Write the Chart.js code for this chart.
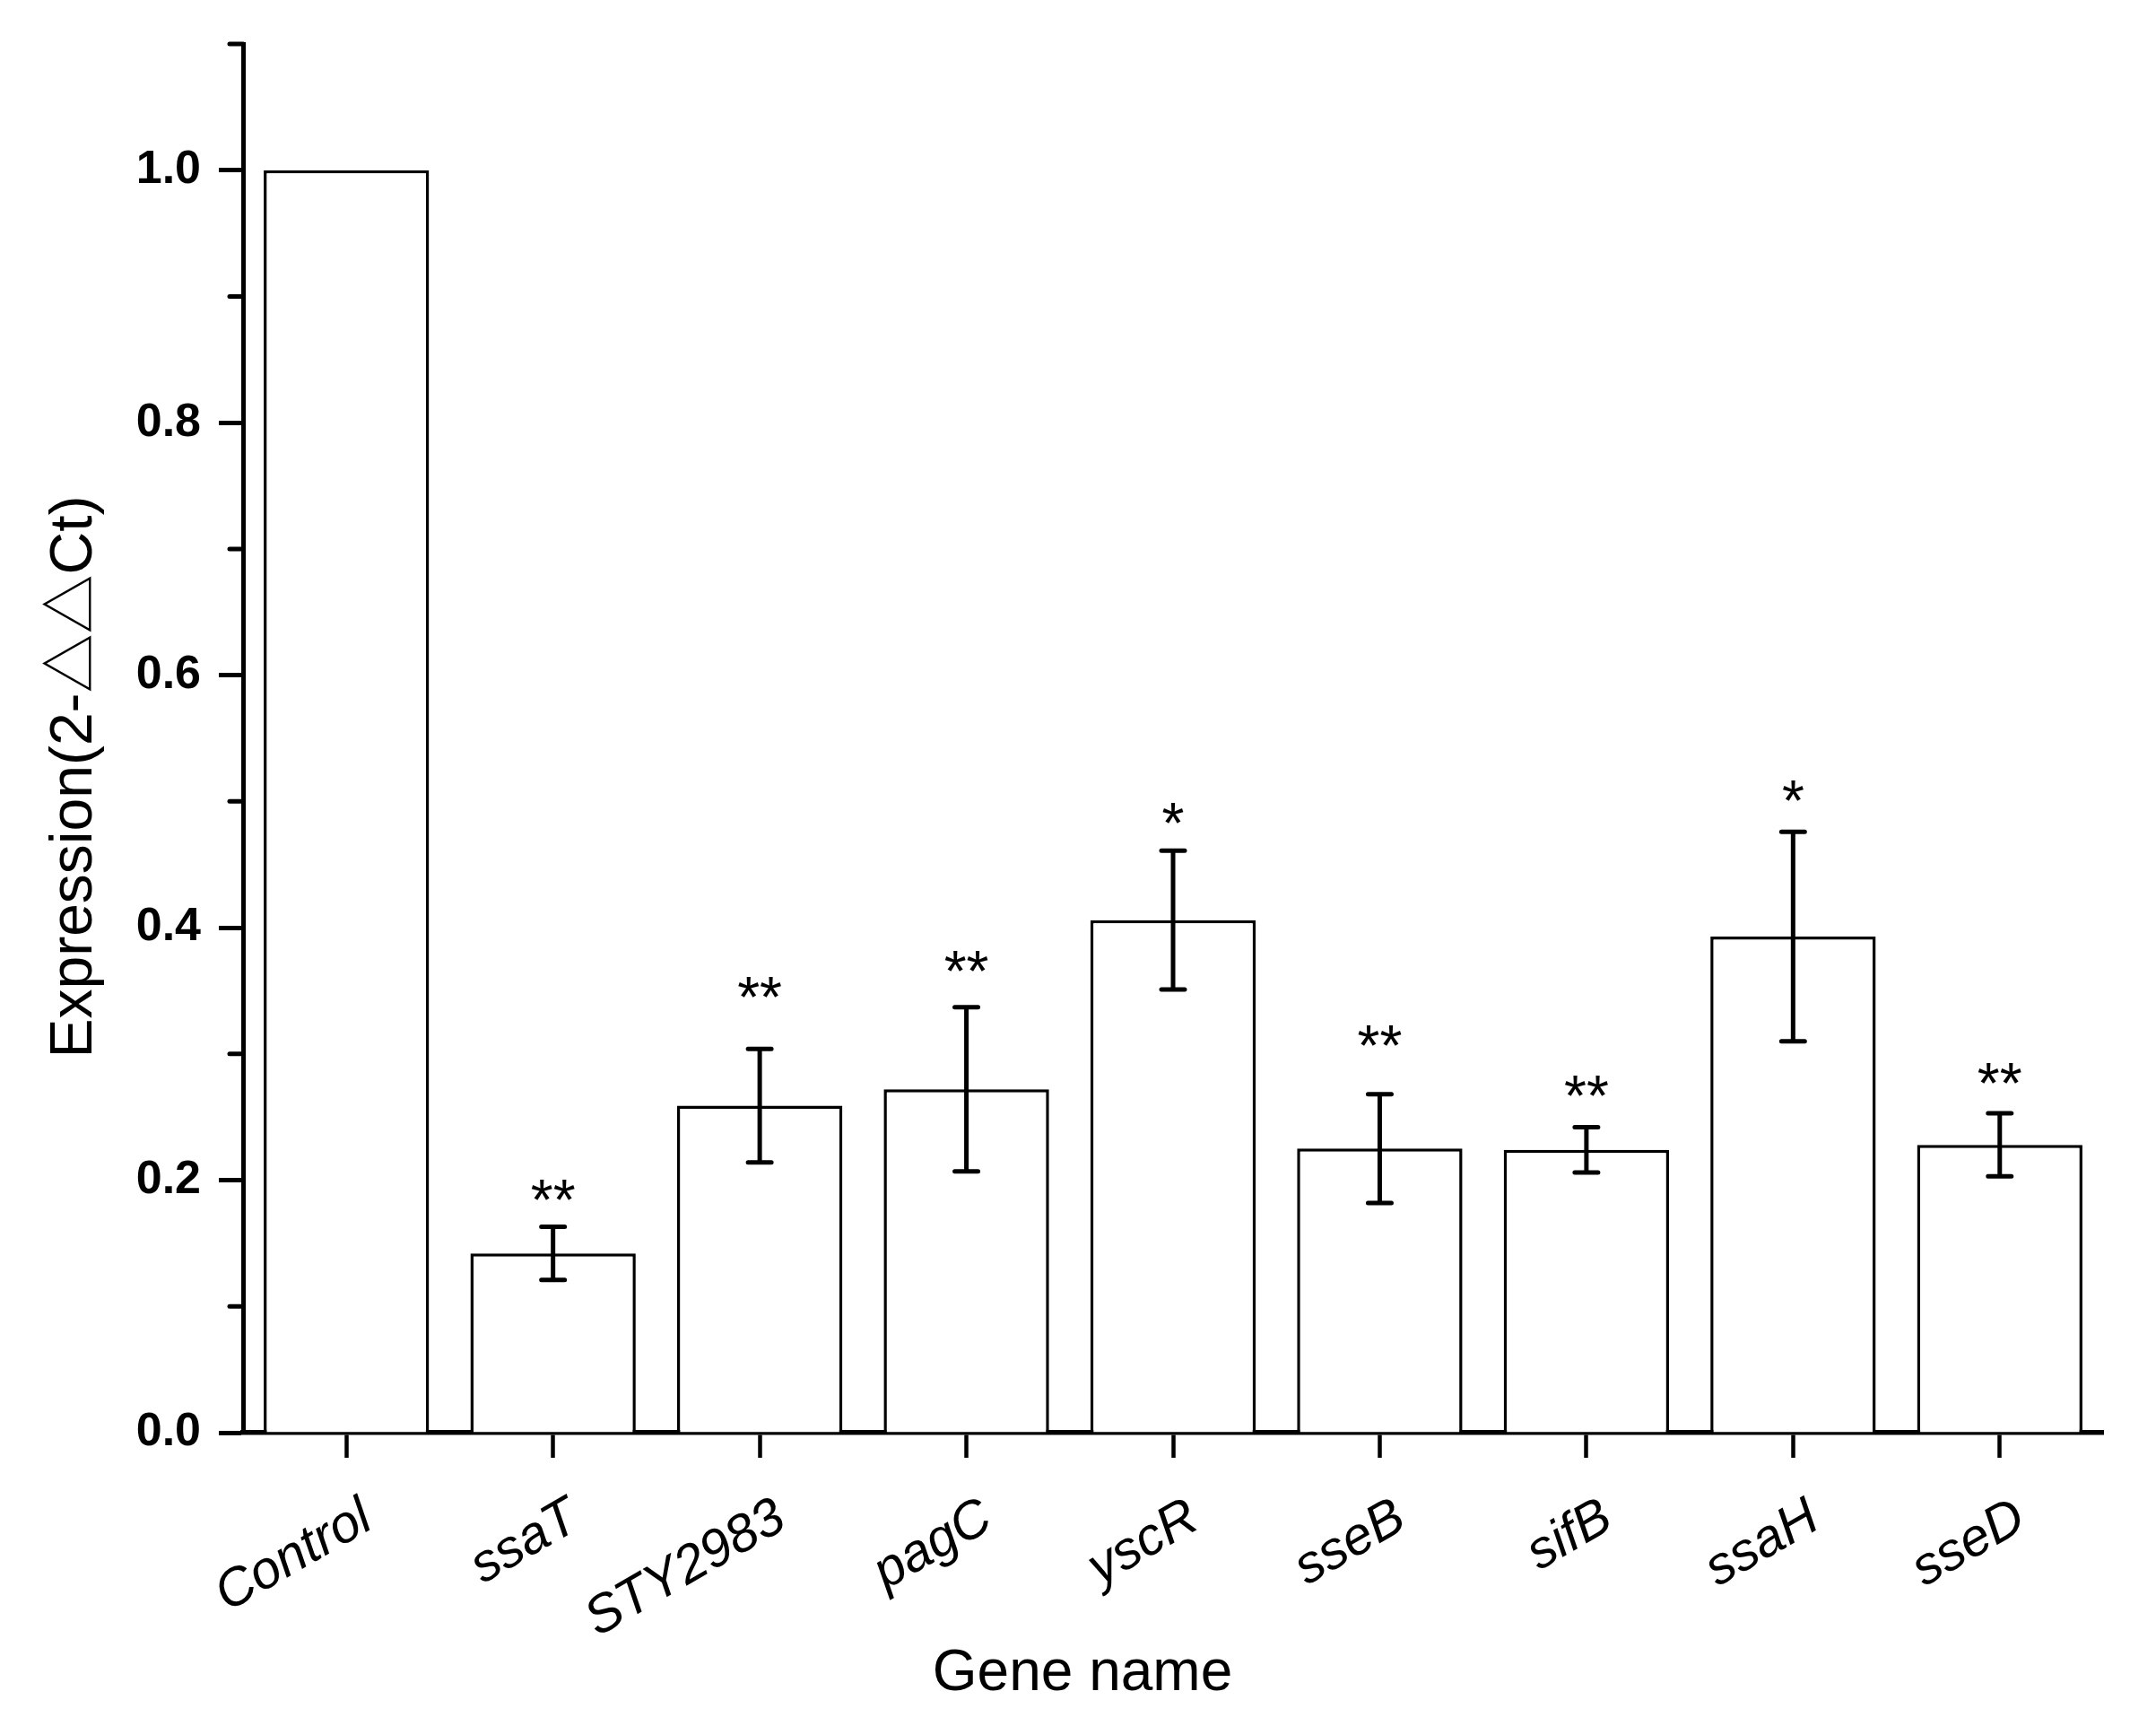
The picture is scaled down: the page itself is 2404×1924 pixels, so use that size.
<!DOCTYPE html>
<html>
<head>
<meta charset="utf-8">
<title>Gene expression</title>
<script src="https://cdn.jsdelivr.net/npm/chart.js@4.4.1/dist/chart.umd.min.js"></script>
<style>
    html, body { margin: 0; padding: 0; background: #fff; }
    canvas { display: block; }
</style>
</head>
<body>
<canvas id="expressionChart" width="2404" height="1924"></canvas>
<script>
// Chart data
const genes = ['Control', 'ssaT', 'STY2983', 'pagC', 'yscR', 'sseB', 'sifB', 'ssaH', 'sseD'];
const expression = [1.0, 0.142, 0.259, 0.272, 0.406, 0.225, 0.224, 0.393, 0.228];
const errors = [0, 0.021, 0.045, 0.065, 0.055, 0.043, 0.018, 0.083, 0.025];
const significance = ['', '**', '**', '**', '*', '**', '**', '*', '**'];
const significanceY = [null, 0.195, 0.355, 0.376, 0.493, 0.317, 0.277, 0.511, 0.287];
const yTicks = [0, 0.2, 0.4, 0.6, 0.8, 1.0];

const FONT = '"Liberation Sans", Arial, sans-serif';

// Error bars with caps, drawn from the y scale
const errorBarPlugin = {
    id: 'errorBars',
    afterDatasetsDraw(chart) {
        const ctx = chart.ctx;
        const y = chart.scales.y;
        const meta = chart.getDatasetMeta(0);
        ctx.save();
        ctx.strokeStyle = '#000';
        ctx.lineWidth = 5;
        meta.data.forEach((bar, i) => {
            if (!errors[i]) return;
            const top = y.getPixelForValue(expression[i] + errors[i]);
            const bottom = y.getPixelForValue(expression[i] - errors[i]);
            ctx.lineCap = 'butt';
            ctx.beginPath();
            ctx.moveTo(bar.x, top);
            ctx.lineTo(bar.x, bottom);
            ctx.stroke();
            ctx.lineCap = 'round';
            ctx.beginPath();
            ctx.moveTo(bar.x - 13, top);
            ctx.lineTo(bar.x + 13, top);
            ctx.moveTo(bar.x - 13, bottom);
            ctx.lineTo(bar.x + 13, bottom);
            ctx.stroke();
        });
        ctx.restore();
    }
};

// Significance stars, minor y ticks and axis titles
const annotationPlugin = {
    id: 'annotations',
    afterDraw(chart) {
        const ctx = chart.ctx;
        const y = chart.scales.y;
        const area = chart.chartArea;
        const meta = chart.getDatasetMeta(0);
        ctx.save();
        ctx.fillStyle = '#000';
        ctx.font = '64px ' + FONT;
        ctx.textAlign = 'center';
        ctx.textBaseline = 'alphabetic';
        meta.data.forEach((bar, i) => {
            if (!significance[i]) return;
            ctx.fillText(significance[i], bar.x, y.getPixelForValue(significanceY[i]) + 37);
        });

        // minor ticks at odd tenths
        ctx.strokeStyle = '#000';
        ctx.lineWidth = 5;
        ctx.lineCap = 'round';
        for (let k = 1; k <= 11; k += 2) {
            const py = y.getPixelForValue(k / 10);
            ctx.beginPath();
            ctx.moveTo(area.left - 15, py);
            ctx.lineTo(area.left, py);
            ctx.stroke();
        }

        // axis titles
        ctx.font = '64px ' + FONT;
        ctx.textBaseline = 'middle';
        ctx.fillText('Gene name', area.left + 936, 1866);
        ctx.font = '66px "Liberation Sans", "Noto Sans CJK SC", sans-serif';
        ctx.translate(84, 866);
        ctx.rotate(-Math.PI / 2);
        ctx.fillText('Expression(2-\u25B3\u25B3Ct)', 0, 0);
        ctx.restore();
    }
};

new Chart(document.getElementById('expressionChart'), {
    type: 'bar',
    data: {
        labels: genes,
        datasets: [{
            label: 'Expression',
            data: expression,
            backgroundColor: '#ffffff',
            borderColor: '#000000',
            borderWidth: 3.5,
            borderSkipped: 'bottom',
            categoryPercentage: 0.8,
            barPercentage: 1.0
        }]
    },
    options: {
        responsive: false,
        animation: false,
        devicePixelRatio: 1,
        layout: {
            padding: { left: 0, top: 49, right: 59, bottom: 0 }
        },
        plugins: {
            legend: { display: false },
            tooltip: { enabled: false }
        },
        scales: {
            x: {
                afterFit(scale) { scale.height = 327; },
                border: { display: true, color: '#000', width: 5.5 },
                grid: {
                    offset: false,
                    drawOnChartArea: false,
                    tickLength: 28,
                    tickWidth: 4.5,
                    tickColor: '#000'
                },
                ticks: {
                    color: '#000',
                    minRotation: 30,
                    maxRotation: 30,
                    padding: 32,
                    labelOffset: 24,
                    font: { family: FONT, size: 59, style: 'italic' }
                }
            },
            y: {
                min: 0,
                max: 1.1,
                afterFit(scale) {
                    scale.width = 271;
                    scale.paddingTop = 0;
                    scale.paddingBottom = 0;
                },
                afterBuildTicks(scale) {
                    scale.ticks = yTicks.map(v => ({ value: v }));
                },
                border: { display: true, color: '#000', width: 5 },
                grid: {
                    drawOnChartArea: false,
                    tickLength: 27,
                    tickWidth: 5,
                    tickColor: '#000'
                },
                ticks: {
                    color: '#000',
                    padding: 20,
                    callback: v => v.toFixed(1),
                    font: { family: FONT, size: 52, weight: 'bold' }
                }
            }
        }
    },
    plugins: [errorBarPlugin, annotationPlugin]
});
</script>
</body>
</html>
